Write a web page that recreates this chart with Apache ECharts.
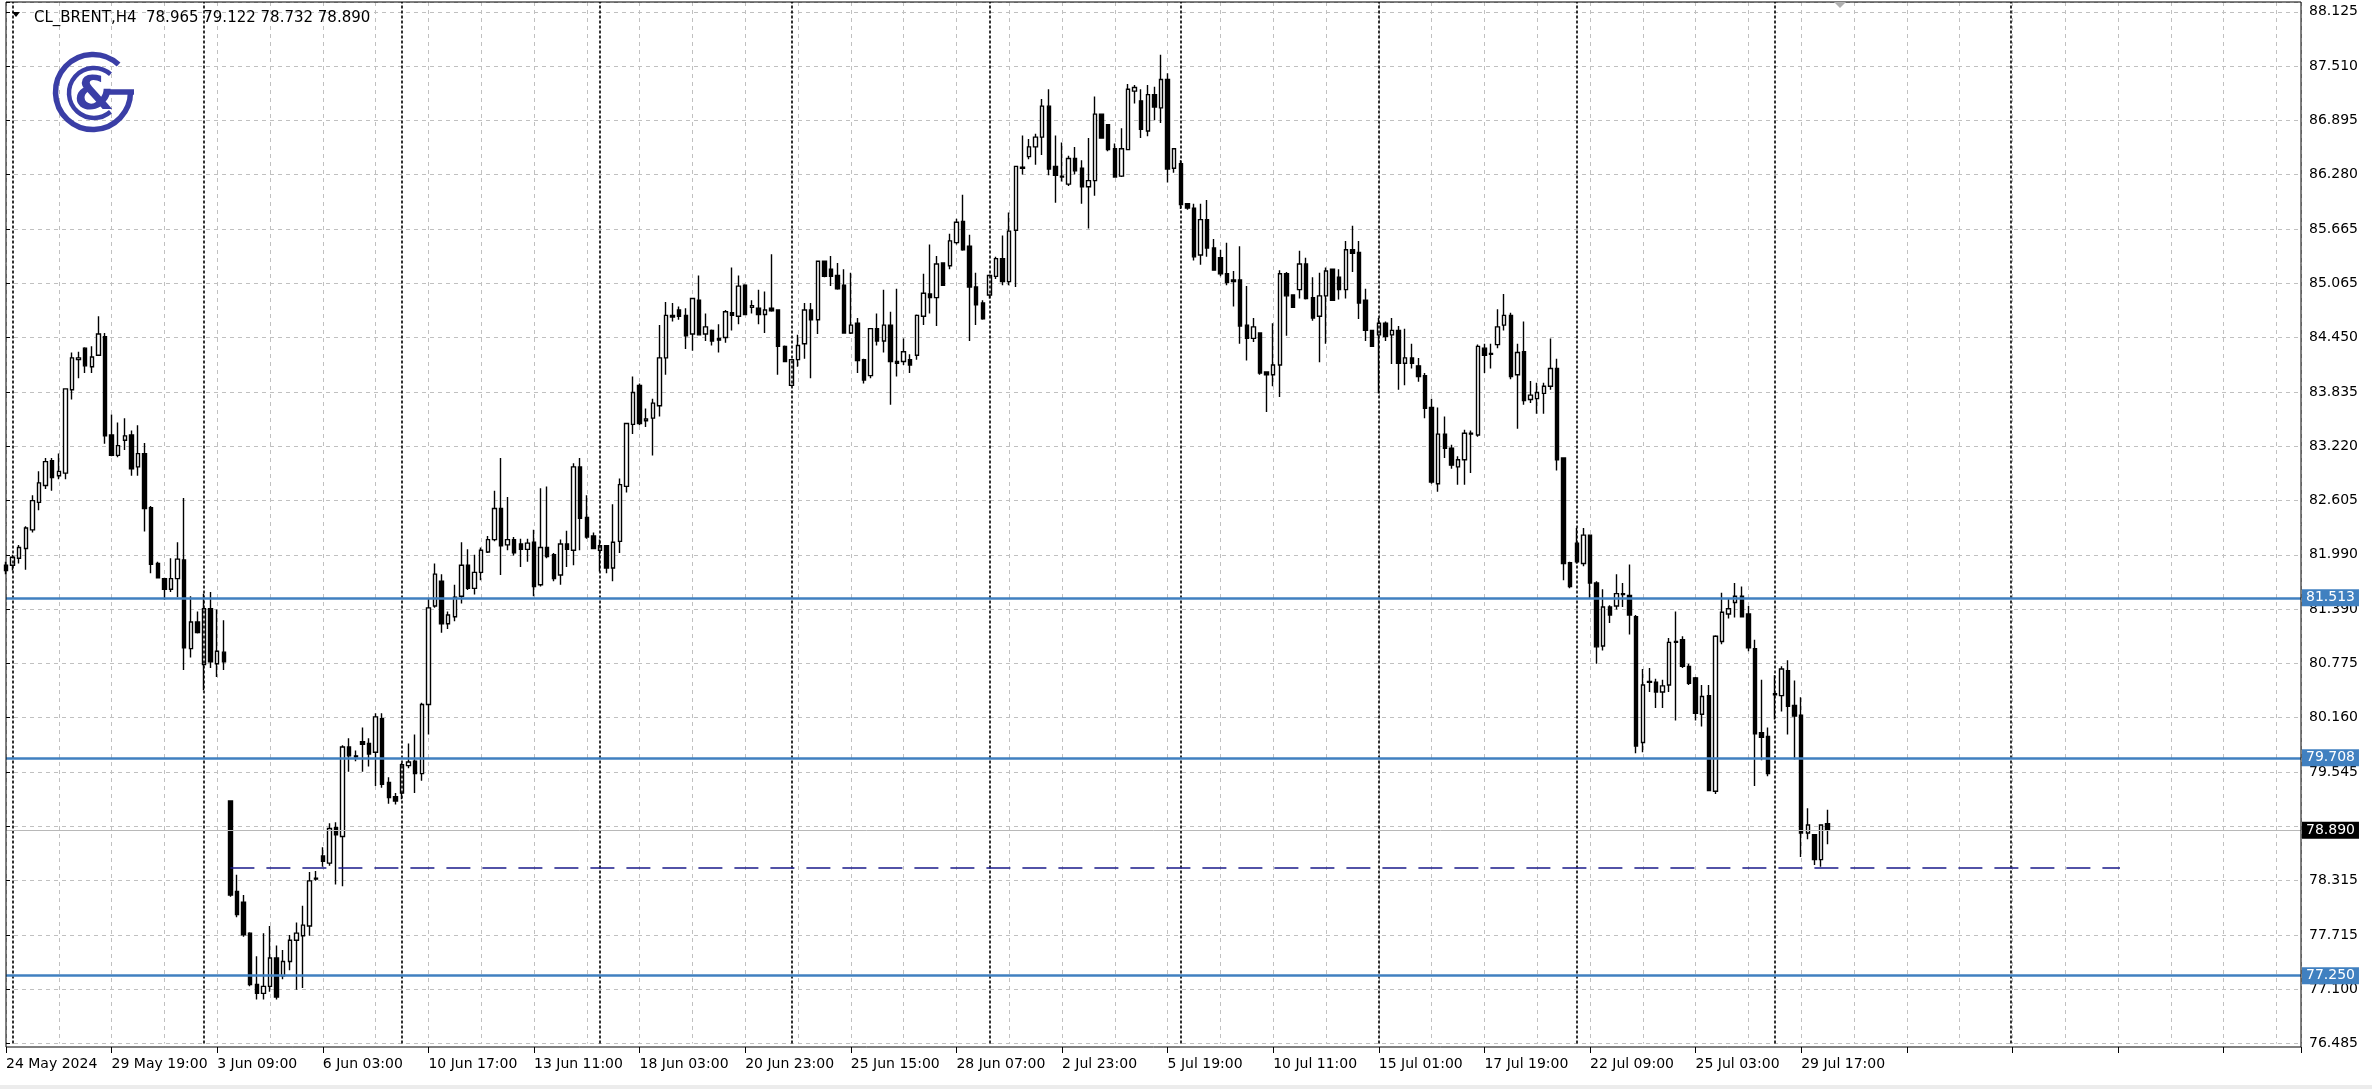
<!DOCTYPE html>
<html><head><meta charset="utf-8">
<script src="https://cdn.jsdelivr.net/npm/echarts@6/dist/echarts.min.js"></script>
<style>html,body{margin:0;padding:0;background:#fff;}#c{width:2372px;height:1089px;}</style>
</head><body><div id="c"></div>
<script>
// ---- DATA (H4 bars, CL_BRENT) ----
const opens = [
81.88,81.88,81.96,82.07,82.28,82.59,82.78,83.06,82.89,82.92,
83.86,84.20,84.33,84.12,84.25,84.46,83.35,83.12,83.29,83.35,
82.99,83.14,82.53,81.90,81.73,81.61,81.73,81.94,80.94,81.24,
80.76,81.39,80.77,80.90,79.22,78.20,78.08,77.73,77.15,77.05,
77.13,77.45,77.25,77.41,77.65,77.70,77.81,78.34,78.60,78.52,
78.92,78.82,79.83,79.73,79.89,79.87,79.77,80.15,79.43,79.27,
79.31,79.62,79.67,79.53,80.31,81.42,81.70,81.22,81.30,81.53,
81.88,81.62,81.80,82.03,82.17,82.52,82.11,82.17,82.12,82.06,
82.14,81.66,82.08,82.00,81.77,82.12,82.05,82.99,82.42,82.21,
82.05,82.10,81.85,82.15,82.77,83.47,83.91,83.51,83.54,83.68,
84.22,84.70,84.76,84.70,84.49,84.87,84.49,84.53,84.44,84.45,
84.73,84.69,85.04,84.79,84.78,84.71,84.78,84.76,84.35,83.91,
84.20,84.38,84.76,84.65,85.31,85.22,85.15,85.04,84.50,84.61,
84.20,84.02,84.55,84.41,84.59,84.18,84.18,84.20,84.25,84.69,
84.94,84.90,85.29,85.26,85.52,85.76,85.48,85.02,84.84,84.93,
85.14,85.34,85.08,85.66,86.37,86.49,86.60,86.71,87.06,86.38,
86.27,86.18,86.47,86.36,86.15,86.22,86.97,86.85,86.58,86.27,
86.57,87.23,87.12,86.78,87.19,87.04,87.36,86.36,86.41,85.96,
85.91,85.38,85.78,85.46,85.35,85.17,85.10,85.10,84.59,84.44,
84.50,84.06,84.03,84.14,85.17,84.93,84.99,85.28,84.90,84.69,
84.92,85.22,85.13,84.99,85.44,85.41,84.87,84.53,84.48,84.61,
84.48,84.53,84.16,84.22,84.13,84.02,83.66,82.80,83.36,83.20,
82.99,83.07,83.37,83.35,84.33,84.26,84.37,84.59,84.70,84.03,
84.29,83.75,83.76,83.82,83.90,84.10,83.09,81.91,82.13,81.90,
82.22,81.68,80.97,81.41,81.42,81.56,81.54,81.30,79.88,80.57,
80.56,80.45,80.53,81.01,81.04,80.74,80.61,80.20,80.41,79.33,
81.02,81.33,81.46,81.53,81.33,80.94,79.99,79.95,80.42,80.41,
80.69,80.30,80.19,78.86,78.84,78.56,78.965];
const highs = [
81.92,82.00,82.11,82.32,82.67,82.94,83.09,83.09,83.14,83.87,
84.28,84.29,84.34,84.35,84.69,84.50,83.58,83.49,83.54,83.40,
83.46,83.26,82.55,81.92,81.74,81.96,82.14,82.64,81.53,81.36,
81.56,81.58,81.38,81.26,79.23,78.39,78.16,77.74,77.47,77.73,
77.81,77.59,77.54,77.71,77.85,78.04,78.42,78.43,78.70,78.97,
78.98,79.85,79.93,79.79,80.05,79.93,80.21,80.21,79.49,79.31,
79.65,79.87,79.97,80.33,81.50,81.90,81.78,81.36,81.66,82.14,
82.06,82.00,82.08,82.21,82.72,83.09,82.65,82.20,82.18,82.18,
82.28,82.75,82.77,82.02,82.17,82.27,83.03,83.09,82.67,82.25,
82.17,82.11,82.57,82.86,83.48,84.01,83.93,83.65,83.76,84.59,
84.85,84.84,84.80,84.78,84.89,85.15,84.72,84.54,84.60,84.76,
85.24,85.15,85.05,84.87,84.99,84.97,85.39,84.77,84.36,84.20,
84.48,84.84,84.84,85.32,85.31,85.37,85.29,85.22,85.18,84.67,
84.21,84.55,84.72,84.99,84.74,85.00,84.44,84.26,84.71,85.17,
85.50,85.37,85.29,85.62,85.79,86.06,85.61,85.18,84.87,85.16,
85.36,85.60,85.86,86.38,86.73,86.69,86.75,87.14,87.25,86.73,
86.65,86.50,86.60,86.45,86.70,87.17,86.97,86.85,86.64,86.81,
87.31,87.30,87.25,87.30,87.28,87.64,87.43,86.58,86.45,85.96,
85.96,85.96,86.00,85.56,85.44,85.52,85.20,85.48,85.03,84.67,
84.50,84.06,84.61,85.21,85.19,84.93,85.43,85.35,85.13,85.18,
85.24,85.22,85.22,85.54,85.71,85.54,85.00,84.53,84.67,84.63,
84.67,84.58,84.55,84.38,84.22,84.05,83.76,83.66,83.56,83.24,
83.11,83.41,83.40,84.37,84.38,84.38,84.77,84.94,84.73,84.38,
84.63,83.96,83.94,83.94,84.44,84.21,83.09,81.92,82.30,82.30,
82.22,81.70,81.61,81.43,81.78,81.68,81.89,81.32,80.71,80.72,
80.60,80.59,81.06,81.36,81.08,80.77,80.62,80.53,80.53,81.09,
81.57,81.51,81.68,81.64,81.42,81.04,80.59,80.05,80.64,80.74,
80.81,80.58,80.39,79.14,78.84,78.95,79.122];
const lows = [
81.78,81.82,81.90,81.83,82.25,82.50,82.74,82.72,82.85,82.85,
83.75,83.99,84.05,84.05,84.24,83.25,83.11,83.10,83.18,82.89,
82.89,82.26,81.79,81.73,81.49,81.58,81.52,80.70,80.84,81.11,
80.47,80.72,80.62,80.70,78.14,77.91,77.69,77.13,76.98,76.98,
77.07,76.98,77.21,77.31,77.09,77.11,77.70,78.32,78.48,78.49,
78.28,78.26,79.55,79.67,79.55,79.61,79.39,79.37,79.19,79.18,
79.24,79.59,79.31,79.45,79.97,81.40,81.12,81.16,81.25,81.45,
81.60,81.55,81.71,82.02,82.15,81.77,82.05,81.99,81.86,81.92,
81.53,81.64,81.96,81.70,81.66,81.86,81.88,82.05,82.18,82.06,
81.81,81.79,81.70,82.02,82.70,83.36,83.46,83.44,83.12,83.56,
84.03,84.63,84.65,84.32,84.30,84.48,84.41,84.36,84.28,84.39,
84.53,84.60,84.70,84.72,84.60,84.50,84.74,84.03,84.17,83.90,
84.12,84.21,83.99,84.49,85.13,85.03,84.99,84.50,84.49,84.05,
83.93,83.99,84.36,84.28,83.69,84.01,84.14,84.05,84.20,84.59,
84.72,84.58,85.04,85.22,85.50,85.43,84.41,84.59,84.65,84.89,
85.11,85.04,85.04,85.02,86.29,86.46,86.40,86.51,86.28,85.97,
86.21,86.16,86.29,85.96,85.68,86.05,86.70,86.55,86.26,86.26,
86.57,87.09,86.70,86.72,86.90,86.87,86.20,86.31,85.90,85.89,
85.32,85.27,85.36,85.21,85.14,85.04,84.80,84.38,84.19,84.40,
84.03,83.61,83.90,83.78,84.47,84.79,84.89,84.88,84.64,84.17,
84.38,84.87,84.88,84.89,85.19,84.66,84.41,84.35,83.82,84.41,
84.15,83.86,83.91,84.10,83.95,83.54,82.80,82.71,83.09,82.97,
82.79,82.79,82.92,83.33,84.05,84.10,84.33,84.53,83.98,83.42,
83.69,83.71,83.59,83.59,83.86,82.95,81.71,81.62,81.90,81.87,
81.51,80.77,80.92,81.23,81.38,81.41,81.10,79.76,79.77,80.45,
80.27,80.27,80.45,80.13,80.72,80.53,80.13,80.06,79.34,79.30,
80.99,81.28,81.29,81.29,80.91,79.39,79.68,79.50,80.14,80.23,
79.97,79.69,78.59,78.79,78.50,78.48,78.732];
const closes = [
81.82,81.97,82.08,82.30,82.61,82.81,83.05,82.87,82.94,83.87,
84.22,84.22,84.13,84.23,84.49,83.34,83.12,83.23,83.34,82.97,
83.14,82.52,81.89,81.74,81.61,81.73,81.95,80.95,81.24,81.12,
81.39,80.79,80.91,80.79,78.16,77.94,77.71,77.15,77.05,77.13,
77.45,77.01,77.41,77.65,77.73,77.82,78.32,78.35,78.54,78.91,
78.84,79.83,79.73,79.72,79.86,79.75,80.17,79.41,79.26,79.22,
79.63,79.66,79.53,80.31,81.40,81.78,81.22,81.32,81.52,81.88,
81.62,81.80,82.05,82.17,82.52,82.10,82.17,82.02,82.06,82.13,
81.64,82.08,81.98,81.73,82.12,82.06,82.99,82.41,82.20,82.07,
82.10,81.85,82.14,82.79,83.48,83.83,83.48,83.53,83.71,84.22,
84.70,84.68,84.69,84.47,84.89,84.48,84.57,84.41,84.42,84.74,
84.70,85.03,84.71,84.81,84.71,84.76,84.75,84.35,84.18,84.20,
84.36,84.76,84.65,85.31,85.14,85.14,85.00,84.50,84.59,84.19,
83.97,84.55,84.41,84.59,84.18,84.16,84.29,84.14,84.70,84.95,
84.90,85.28,85.04,85.54,85.75,85.44,85.02,84.82,84.66,85.15,
85.34,85.08,85.65,86.38,86.36,86.60,86.71,87.06,86.35,86.28,
86.26,86.47,86.33,86.15,86.22,86.97,86.70,86.57,86.26,86.58,
87.25,87.27,86.80,87.19,87.05,87.36,86.35,86.58,85.95,85.91,
85.36,85.78,85.46,85.21,85.17,85.07,85.08,84.58,84.44,84.57,
84.05,84.03,84.14,85.17,84.92,84.79,85.28,84.89,84.67,84.92,
85.20,84.87,84.99,85.44,85.40,84.84,84.53,84.35,84.61,84.46,
84.53,84.16,84.22,84.16,84.01,83.65,82.82,83.36,83.20,83.01,
83.07,83.37,83.36,84.35,84.25,84.27,84.57,84.70,84.01,84.28,
83.74,83.80,83.83,83.90,84.10,83.07,81.90,81.64,81.92,82.22,
81.68,80.96,81.41,81.32,81.56,81.55,81.32,79.84,80.53,80.56,
80.45,80.52,81.01,81.02,80.74,80.55,80.21,80.40,79.34,81.08,
81.35,81.39,81.53,81.30,80.95,79.98,79.94,79.53,80.43,80.71,
80.29,80.18,78.86,78.95,78.56,78.95,78.890];

// time labels, one every 16 bars
const timeLabels = ['24 May 2024','29 May 19:00','3 Jun 09:00','6 Jun 03:00','10 Jun 17:00','13 Jun 11:00',
  '18 Jun 03:00','20 Jun 23:00','25 Jun 15:00','28 Jun 07:00','2 Jul 23:00','5 Jul 19:00','10 Jul 11:00',
  '15 Jul 01:00','17 Jul 19:00','22 Jul 09:00','25 Jul 03:00','29 Jul 17:00'];
// price scale tick labels (bottom to top); the one under the current-price tag is hidden
const priceTickLabels = ['76.485','77.100','77.715','78.315','','79.545','80.160','80.775','81.390',
  '81.990','82.605','83.220','83.835','84.450','85.065','85.665','86.280','86.895','87.510','88.125'];
const priceTickFirst = 76.485, priceTickLast = 88.125;
// horizontal levels
const levelLines = [81.513, 79.708, 77.250];
const currentPrice = 78.890;
const dashedLevel = 78.47, dashedFromBar = 34, dashedToBar = 320.3;
// weekly period separators (bar position of first bar of each week; last one in the future area)
const weekSeparators = [1, 30, 60, 90, 119, 149, 178, 208, 238, 268, 303.75];

// ---- CHART ----
const FONT = 'DejaVu Sans';
const priceStep = (priceTickLast - priceTickFirst) / (priceTickLabels.length - 1);
const yMax = 88.235;
const xMax = 347.727;
const LOGO = '#3a3ea6';
const LEVEL = '#4080c0';

const candleData = opens.map((o, i) => [i, o, closes[i], lows[i], highs[i]]);
const n = opens.length;

const chart = echarts.init(document.getElementById('c'));
chart.setOption({
  animation: false,
  backgroundColor: '#ffffff',
  title: {
    text: 'CL_BRENT,H4  ' + [opens[n-1], highs[n-1], lows[n-1], closes[n-1]].map(v => v.toFixed(3)).join(' '),
    left: 29, top: 6,
    textStyle: { fontFamily: FONT, fontSize: 15, fontWeight: 'normal', color: '#000' }
  },
  grid: { left: 6, right: 71, top: 2, bottom: 45.5, show: false },
  xAxis: [{
    type: 'value', min: 0, max: xMax, interval: 8,
    axisLine: { show: false }, axisTick: { show: false },
    axisLabel: {
      formatter: v => (v % 16 === 0 ? (timeLabels[v / 16] || '') : ''),
      align: 'left', margin: 14, fontSize: 14, fontFamily: FONT, color: '#000', showMaxLabel: false
    },
    splitLine: { show: true, lineStyle: { color: '#c0c0c0', type: [4, 4], width: 1 } }
  }, {
    type: 'value', min: 0, max: xMax, interval: 16, position: 'bottom', offset: 3.5,
    axisLine: { show: false }, axisTick: { show: true, length: 6, lineStyle: { color: '#000', width: 1 } },
    axisLabel: { show: false }, splitLine: { show: false }
  }],
  yAxis: {
    type: 'value', position: 'right', min: priceTickFirst, max: yMax, interval: priceStep,
    axisLine: { show: false },
    axisTick: { show: true, length: 4, lineStyle: { color: '#000' } },
    axisLabel: {
      margin: 8, fontSize: 14, fontFamily: FONT, color: '#000',
      formatter: v => {
        const k = Math.round((v - priceTickFirst) / priceStep);
        return Math.abs(v - (priceTickFirst + k * priceStep)) < 1e-4 ? (priceTickLabels[k] || '') : '';
      }
    },
    splitLine: { show: true, lineStyle: { color: '#c0c0c0', type: [4, 4], width: 1 } }
  },
  series: [{
    type: 'line', data: [], z: 1, silent: true, clip: false,
    markLine: {
      silent: true, symbol: ['none', 'none'], animation: false, precision: 3,
      data: [
        ...weekSeparators.map(b => ({ xAxis: b, lineStyle: { color: '#000', type: [3, 2], width: 1.6 }, label: { show: false } })),
        { yAxis: currentPrice, lineStyle: { color: '#b8b8b8', type: 'solid', width: 1 },
          label: { show: true, position: 'end', distance: 1, formatter: p => Number(p.value).toFixed(3), color: '#fff',
                   backgroundColor: '#000', padding: [2, 4, 1, 4], fontSize: 14, fontFamily: FONT } },
        ...levelLines.map(v => ({ yAxis: v, lineStyle: { color: LEVEL, type: 'solid', width: 2.5 },
          label: { show: true, position: 'end', distance: 1, formatter: p => Number(p.value).toFixed(3), color: '#fff',
                   backgroundColor: LEVEL, padding: [2, 4, 1, 4], fontSize: 14, fontFamily: FONT } })),
        [{ coord: [dashedFromBar, dashedLevel], lineStyle: { color: '#1a1a8a', type: [24, 12], width: 1.6 }, label: { show: false } },
         { coord: [dashedToBar, dashedLevel], lineStyle: { color: '#1a1a8a', type: [24, 12], width: 1.6 }, label: { show: false } }]
      ]
    }
  }, {
    type: 'candlestick', z: 3, silent: true, barWidth: 4,
    data: candleData,
    itemStyle: { color: '#ffffff', color0: '#000000', borderColor: '#000000', borderColor0: '#000000', borderWidth: 1.4 }
  }],
  graphic: [
    { type: 'rect', z: 100, silent: true, shape: { x: 6, y: 2, width: 2295, height: 1045 },
      style: { fill: null, stroke: '#000', lineWidth: 1 } },
    { type: 'rect', z: 100, silent: true, shape: { x: 0, y: 1085, width: 2372, height: 4 }, style: { fill: '#ececec' } },
    { type: 'polygon', z: 100, silent: true, shape: { points: [[12, 12], [20, 12], [16, 17]] }, style: { fill: '#000' } },
    { type: 'polygon', z: 100, silent: true, shape: { points: [[1834, 2], [1846, 2], [1840, 8]] }, style: { fill: '#b0b0b0' } },
    // logo
    { type: 'arc', z: 100, silent: true, shape: { cx: 93, cy: 92, r: 37.5, startAngle: -0.82, endAngle: 0, clockwise: false },
      style: { stroke: LOGO, lineWidth: 5.5, fill: null } },
    { type: 'line', z: 100, silent: true, shape: { x1: 108, y1: 92, x2: 134, y2: 92 }, style: { stroke: LOGO, lineWidth: 5.5 } },
    { type: 'arc', z: 100, silent: true, shape: { cx: 94, cy: 93, r: 25, startAngle: -0.85, endAngle: 0.85, clockwise: false },
      style: { stroke: LOGO, lineWidth: 4.5, fill: null } },
    { type: 'text', z: 100, silent: true, style: { text: '&', x: 94, y: 97, align: 'center', verticalAlign: 'middle',
      font: 'bold 46px "DejaVu Sans"', fill: LOGO } }
  ]
});
</script>
</body></html>
